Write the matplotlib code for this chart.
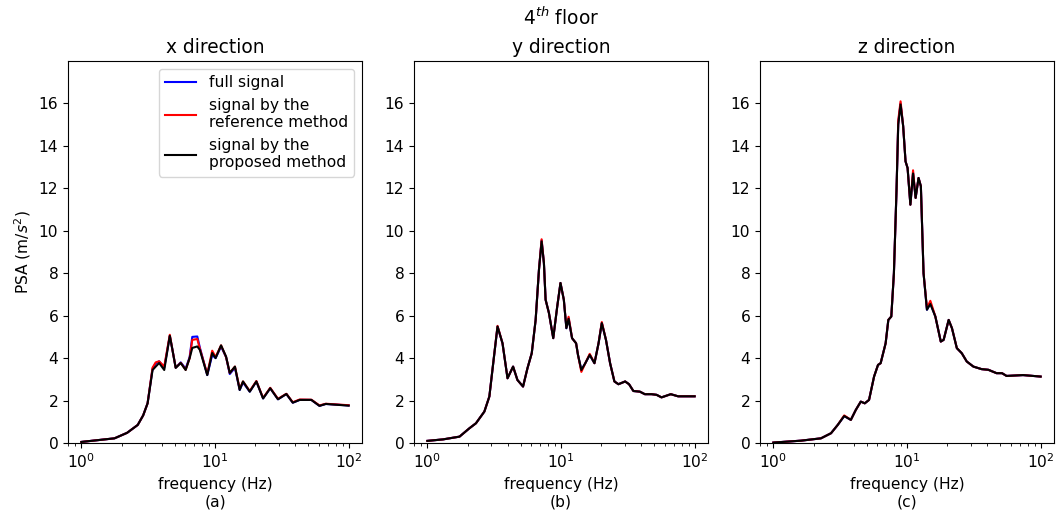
import numpy as np
import matplotlib.pyplot as plt

# x direction (panel a)
freq_x = [1.0, 1.77, 2.2, 2.64, 2.9, 3.13, 3.41, 3.6, 3.82, 4.17, 4.59, 4.8, 5.08, 5.54, 6.03,
          6.46, 6.76, 7.37, 7.7, 8.75, 9.53, 10.1, 11.1, 12.1, 12.9, 14.1, 15.3, 16.2, 18.2,
          20.4, 22.9, 25.9, 29.6, 34.2, 38.2, 43.0, 52.6, 60.5, 67.5, 100.0]
full_x = [0.05, 0.22, 0.48, 0.85, 1.3, 1.87, 3.5, 3.75, 3.85, 3.55, 5.05, 4.4, 3.55, 3.8, 3.5,
          4.05, 5.0, 5.02, 4.5, 3.2, 4.15, 4.0, 4.55, 4.05, 3.25, 3.55, 2.5, 2.85, 2.42,
          2.9, 2.1, 2.58, 2.06, 2.31, 1.9, 2.03, 2.03, 1.75, 1.84, 1.77]
ref_x = [0.05, 0.22, 0.48, 0.85, 1.3, 1.87, 3.55, 3.8, 3.85, 3.6, 5.1, 4.4, 3.55, 3.78, 3.45,
         4.0, 4.86, 4.9, 4.45, 3.25, 4.35, 4.05, 4.6, 4.05, 3.3, 3.6, 2.55, 2.9, 2.45,
         2.92, 2.12, 2.6, 2.08, 2.32, 1.92, 2.05, 2.04, 1.77, 1.85, 1.78]
prop_x = [0.05, 0.22, 0.48, 0.85, 1.3, 1.87, 3.44, 3.6, 3.77, 3.44, 5.05, 4.4, 3.54, 3.77, 3.44,
          4.0, 4.48, 4.55, 4.39, 3.2, 4.24, 4.0, 4.6, 4.07, 3.3, 3.6, 2.5, 2.9, 2.42,
          2.9, 2.1, 2.58, 2.06, 2.31, 1.9, 2.03, 2.03, 1.75, 1.84, 1.76]

# y direction (panel b)
freq_y = [1.0, 1.31, 1.74, 2.06, 2.31, 2.67, 2.91, 3.11, 3.35, 3.65, 3.98, 4.38, 4.72, 5.2,
          5.61, 6.04, 6.46, 6.84, 7.16, 7.45, 7.67, 8.12, 8.75, 9.37, 9.91, 10.5, 10.97, 11.4,
          12.1, 12.97, 13.4, 14.2, 15.2, 16.4, 17.8, 19.1, 20.2, 21.7, 23.3, 25.1, 26.9, 30.2,
          32.3, 34.8, 38.9, 42.4, 47.6, 51.9, 56.5, 66.3, 75.2, 100.0]
full_y = [0.1, 0.17, 0.3, 0.69, 0.93, 1.48, 2.19, 3.76, 5.49, 4.7, 3.05, 3.6, 2.97, 2.66,
          3.52, 4.23, 5.8, 8.16, 9.55, 8.48, 6.75, 6.13, 4.94, 6.43, 7.54, 6.75, 5.41, 5.88,
          4.94, 4.7, 4.15, 3.44, 3.76, 4.15, 3.76, 4.7, 5.65, 4.86, 3.76, 2.9, 2.77, 2.9,
          2.77, 2.45, 2.42, 2.3, 2.3, 2.27, 2.15, 2.3, 2.2, 2.2]
ref_y = [0.1, 0.17, 0.3, 0.69, 0.93, 1.48, 2.19, 3.76, 5.52, 4.7, 3.05, 3.6, 2.97, 2.66,
         3.52, 4.23, 5.8, 8.16, 9.6, 8.48, 6.75, 6.13, 4.94, 6.43, 7.54, 6.75, 5.45, 5.95,
         4.94, 4.7, 4.15, 3.35, 3.76, 4.2, 3.76, 4.7, 5.7, 4.86, 3.76, 2.9, 2.77, 2.9,
         2.77, 2.45, 2.42, 2.3, 2.3, 2.27, 2.15, 2.3, 2.2, 2.2]
prop_y = [0.1, 0.17, 0.3, 0.69, 0.93, 1.48, 2.19, 3.76, 5.49, 4.7, 3.05, 3.6, 2.97, 2.66,
          3.52, 4.23, 5.8, 8.16, 9.5, 8.48, 6.75, 6.13, 4.94, 6.43, 7.54, 6.75, 5.41, 5.85,
          4.94, 4.7, 4.15, 3.44, 3.76, 4.15, 3.76, 4.7, 5.65, 4.86, 3.76, 2.9, 2.77, 2.9,
          2.77, 2.45, 2.42, 2.3, 2.3, 2.27, 2.15, 2.3, 2.2, 2.2]

# z direction (panel c)
freq_z = [1.0, 1.61, 2.27, 2.7, 3.03, 3.39, 3.8, 4.14, 4.51, 4.83, 5.2, 5.67, 6.07, 6.35,
          6.92, 7.25, 7.63, 7.98, 8.35, 8.6, 8.95, 9.36, 9.75, 10.1, 10.6, 11.1, 11.6, 12.2,
          12.7, 13.3, 14.1, 14.95, 16.3, 17.9, 18.8, 20.5, 21.7, 23.6, 25.7, 28.0, 31.4,
          36.2, 40.6, 46.8, 51.4, 55.6, 73.9, 100.0]
full_z = [0.02, 0.11, 0.22, 0.46, 0.85, 1.27, 1.09, 1.56, 1.95, 1.87, 2.03, 3.13, 3.68, 3.76,
          4.7, 5.8, 5.96, 8.0, 11.94, 15.09, 16.0, 14.93, 13.27, 12.96, 11.23, 12.73, 11.55, 12.49,
          12.1, 8.0, 6.28, 6.59, 5.96, 4.78, 4.86, 5.8, 5.41, 4.47, 4.23, 3.84, 3.6,
          3.48, 3.45, 3.29, 3.29, 3.16, 3.2, 3.13]
ref_z = [0.02, 0.11, 0.22, 0.46, 0.85, 1.3, 1.09, 1.56, 1.95, 1.87, 2.03, 3.13, 3.68, 3.76,
         4.7, 5.8, 5.96, 8.0, 11.94, 15.2, 16.1, 14.93, 13.27, 12.96, 11.23, 12.85, 11.55, 12.49,
         12.1, 8.0, 6.35, 6.7, 5.96, 4.78, 4.86, 5.8, 5.41, 4.47, 4.23, 3.84, 3.6,
         3.48, 3.45, 3.29, 3.29, 3.16, 3.2, 3.13]
prop_z = [0.02, 0.11, 0.22, 0.46, 0.85, 1.27, 1.09, 1.56, 1.95, 1.87, 2.03, 3.13, 3.68, 3.76,
          4.7, 5.8, 5.96, 8.0, 11.94, 15.0, 15.95, 14.93, 13.27, 12.96, 11.23, 12.7, 11.55, 12.49,
          12.1, 8.0, 6.28, 6.55, 5.96, 4.78, 4.86, 5.8, 5.41, 4.47, 4.23, 3.84, 3.6,
          3.48, 3.45, 3.29, 3.29, 3.16, 3.2, 3.13]

titles = ['x direction', 'y direction', 'z direction']
panel_tags = ['(a)', '(b)', '(c)']
legend_labels = ['full signal', 'signal by the\nreference method', 'signal by the\nproposed method']

panels = [(freq_x, full_x, ref_x, prop_x),
          (freq_y, full_y, ref_y, prop_y),
          (freq_z, full_z, ref_z, prop_z)]

plt.rcParams['font.size'] = 11.2

fig = plt.figure(figsize=(10.57, 5.22), dpi=100)
fig.suptitle('4$^{th}$ floor', fontsize=13.4, x=561 / 1057, y=1 - 18 / 522, va='center')
lefts = [68, 414, 760]
for i, (f, full, ref, prop) in enumerate(panels):
    ax = fig.add_axes([lefts[i] / 1057, 79 / 522, 294 / 1057, 382 / 522])
    ax.plot(f, full, color='blue', label=legend_labels[0])
    ax.plot(f, ref, color='red', label=legend_labels[1])
    ax.plot(f, prop, color='black', label=legend_labels[2])
    ax.set_xscale('log')
    ax.set_ylim(0, 18)
    ax.set_yticks(np.arange(0, 17, 2))
    ax.set_title(titles[i], fontsize=13.4)
    ax.set_xlabel('frequency (Hz)\n' + panel_tags[i])
    if i == 0:
        ax.set_ylabel('PSA (m/$s^2$)')
        ax.legend(loc='upper right')

fig.savefig('out.png', dpi=100)
